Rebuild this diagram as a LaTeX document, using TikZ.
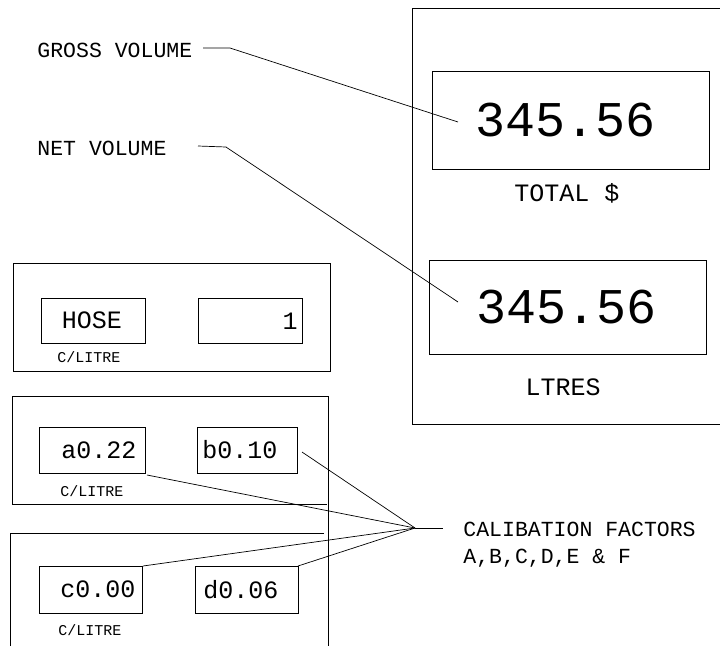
\documentclass[tikz,border=0pt]{standalone}
\usepackage{fontspec}
\newfontfamily\plotfont{Liberation Mono}
\begin{document}
\begin{tikzpicture}[x=1pt,y=-1pt,
  line width=0.8pt,
  frame/.style={draw,line width=0.8pt},
  dispbox/.style={draw,line width=0.8pt,inner sep=0pt},
  bigtxt/.style={font=\plotfont\fontsize{50}{50}\selectfont,inner sep=0pt},
  midtxt/.style={font=\plotfont\fontsize{25}{25}\selectfont,inner sep=0pt},
  lbltxt/.style={font=\plotfont\fontsize{21.5}{27}\selectfont,inner sep=0pt},
  smalltxt/.style={font=\plotfont\fontsize{15}{15}\selectfont,inner sep=0pt},
  leader/.style={draw,line width=0.7pt}]
\useasboundingbox[fill=white] (0,0) rectangle (720,646);

% right panel (open to the right)
\draw[frame] (720,8) -- (412,8) -- (412,424) -- (720,424);
\node[dispbox,minimum width=277pt,minimum height=98pt] (gross) at (570.5,120) {};
\node[bigtxt] (grosst) at (566,120) {345.56};
\node[midtxt] (total) at (567,193) {TOTAL \$};
\node[dispbox,minimum width=277pt,minimum height=94pt] (net) at (567.5,307) {};
\node[bigtxt] (nett) at (567,307) {345.56};
\node[midtxt] (ltres) at (563,387) {LTRES};

% labels at left
\node[lbltxt,anchor=west] (glab) at (37,50) {GROSS VOLUME};
\node[lbltxt,anchor=west] (nlab) at (37,148) {NET VOLUME};
\coordinate (g1) at (203,48);
\coordinate (g2) at (230,48);
\coordinate (g3) at (458,122);
\coordinate (n1) at (198,146);
\coordinate (n2) at (226,147);
\coordinate (n3) at (458,302);
\draw[leader] (g1) -- (g2) -- (g3);
\draw[leader] (n1) -- (n2) -- (n3);

% panel 1
\draw[frame] (13,263) rectangle (330,371);
\node[dispbox,minimum width=104pt,minimum height=45pt] (hose) at (93,320.5) {};
\node[midtxt] (hoset) at (92,320.5) {HOSE};
\node[smalltxt] (cl1) at (89,357) {C/LITRE};
\node[dispbox,minimum width=104pt,minimum height=45pt] (one) at (250,320.5) {};
\node[midtxt,anchor=east] (onet) at (298,321) {1};

% panel 2
\draw[frame] (12,396) -- (12,504) -- (327,504);
\draw[frame] (12,396) -- (328,396) -- (328,646);
\node[dispbox,minimum width=106pt,minimum height=46pt] (abox) at (92,450) {};
\node[midtxt] (at) at (99,450) {a0.22};
\node[dispbox,minimum width=100pt,minimum height=46pt] (bbox) at (247,450) {};
\node[midtxt] (bt) at (240,450) {b0.10};
\node[smalltxt] (cl2) at (92,491) {C/LITRE};

% panel 3
\draw[frame] (10,646) -- (10,533) -- (324,533);
\node[dispbox,minimum width=103pt,minimum height=47pt] (cbox) at (90.5,589.5) {};
\node[midtxt] (ct) at (98,589.5) {c0.00};
\node[dispbox,minimum width=103pt,minimum height=47pt] (dbox) at (246.5,589.5) {};
\node[midtxt] (dt) at (241,589.5) {d0.06};
\node[smalltxt] (cl3) at (90,630) {C/LITRE};

% calibration factors
\coordinate (cp) at (415,528);
\coordinate (ce) at (443,528);
\coordinate (pb) at (302,452);
\coordinate (pa) at (147,475);
\coordinate (pc) at (143,566);
\coordinate (pd) at (298,566);
\draw[leader] (cp) -- (ce);
\draw[leader] (pb) -- (cp);
\draw[leader] (pa) -- (cp);
\draw[leader] (pc) -- (cp);
\draw[leader] (pd) -- (cp);
\node[lbltxt,anchor=west,align=left] (calib) at (463,545) {CALIBATION FACTORS\\A,B,C,D,E \& F};
\end{tikzpicture}
\end{document}
